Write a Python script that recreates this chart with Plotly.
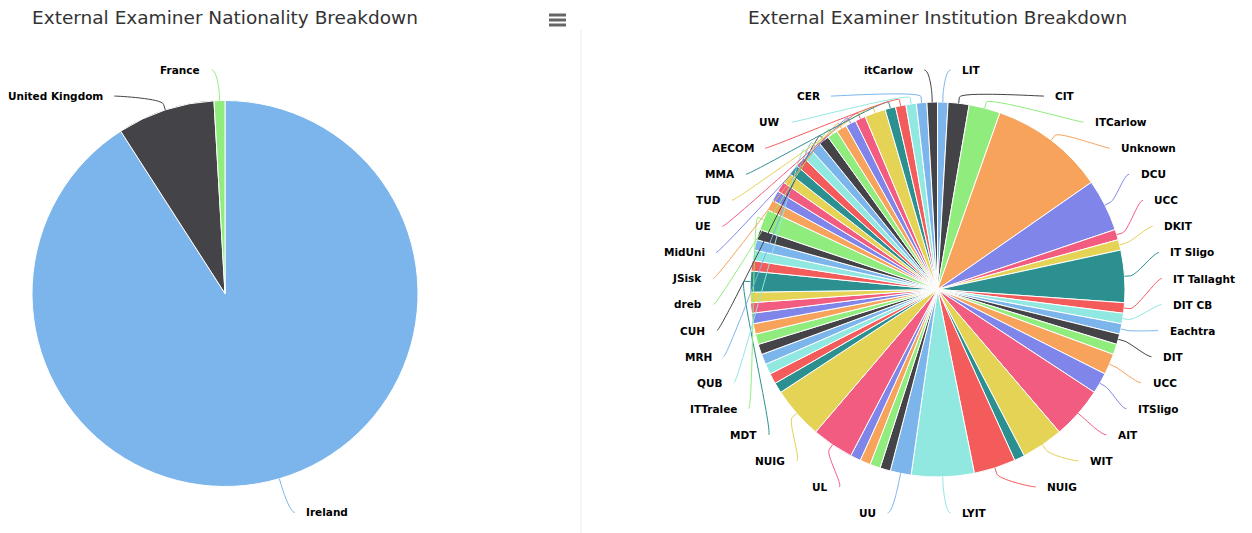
import math
import plotly.graph_objects as go

W, H = 1252, 533          # browser window
OFF = 8                   # default body margin of the written page
FW, FH = W - OFF, H - OFF  # figure size

COLORS = ["#7cb5ec", "#434348", "#90ed7d", "#f7a35c", "#8085e9",
          "#f15c80", "#e4d354", "#2b908f", "#f45b5b", "#91e8e1"]

# ---------------- data ----------------
nat_labels = ["Ireland", "United Kingdom", "France"]
nat_values = [100, 9, 1]

inst_labels = [
    "LIT", "CIT", "ITCarlow", "Unknown", "DCU", "UCC", "DKIT", "IT Sligo",
    "IT Tallaght", "DIT CB", "Eachtra", "DIT", "", "UCC", "ITSligo", "AIT",
    "WIT", "", "NUIG", "LYIT", "UU", "", "", "", "", "UL", "NUIG",
    "", "", "", "", "", "", "", "", "", "",
    "MDT", "", "", "", "", "ITTralee", "", "", "", "", "", "",
    "QUB", "MRH", "CUH", "dreb", "JSisk", "MidUni", "UE", "TUD", "MMA",
    "AECOM", "UW", "CER", "itCarlow",
]
inst_values = [
    1, 2, 3, 11, 5, 1, 1, 5, 1, 1, 1, 1, 1, 2, 2, 5,
    4, 1, 4, 6, 2, 1, 1, 1, 1, 4, 5,
    1, 1, 1, 1, 1, 1, 1, 1, 1, 1,
    2, 1, 1, 1, 1, 2, 1, 1, 1, 1, 1, 1,
    1, 1, 1, 1, 1, 1, 1, 2, 1,
    1, 1, 1, 1,
]

titles = ["External Examiner Nationality Breakdown",
          "External Examiner Institution Breakdown"]

# ---------------- layout constants (page pixel coordinates) ----------------
LEFT_PIE = dict(cx=225.0, cy=293.5, r=193.0)
RIGHT_PIE = dict(cx=937.5, cy=289.5, r=187.5)
LABEL_DIST = 30
SLOT = 26.05
LO, HI = 57.0, 526.0
TEXT_GAP = 17.5
CONN_GAP = 7.0
LABEL_FONT = dict(family="DejaVu Sans", size=10.5, color="#000000", weight="bold")


def domain(g):
    cx, cy, r = g["cx"], g["cy"], g["r"]
    return dict(x=[(cx - r - OFF) / FW, (cx + r - OFF) / FW],
                y=[1 - (cy + r - OFF) / FH, 1 - (cy - r - OFF) / FH])


def distribute(targets, size, lo, hi):
    groups = [[t, 1] for t in targets]

    def pos(g):
        p = g[0] / g[1] - g[1] * size / 2
        return min(max(p, lo), hi - g[1] * size)

    changed = True
    while changed:
        changed = False
        for k in range(len(groups) - 1):
            if pos(groups[k]) + groups[k][1] * size > pos(groups[k + 1]) + 1e-9:
                groups[k] = [groups[k][0] + groups[k + 1][0], groups[k][1] + groups[k + 1][1]]
                del groups[k + 1]
                changed = True
                break
    out = []
    for g in groups:
        p = pos(g)
        for j in range(g[1]):
            out.append(p + size * (j + 0.5))
    return out


def labels_and_connectors(names, values, g, colors):
    cx, cy, r = g["cx"], g["cy"], g["r"]
    R = r + LABEL_DIST
    total = float(sum(values))
    cum = 0.0
    items = []
    for i, (n, v) in enumerate(zip(names, values)):
        a0 = cum / total * 360
        cum += v
        a1 = cum / total * 360
        if not n:
            continue
        midd = (a0 + a1) / 2
        mid = math.radians(midd)
        items.append(dict(name=n, mid=mid, nat=cy - R * math.cos(mid),
                          side=1 if midd < 180 else -1, color=colors[i % len(colors)]))
    for side in (1, -1):
        grp = sorted([it for it in items if it["side"] == side], key=lambda it: it["nat"])
        ys = distribute([it["nat"] + 5 for it in grp], SLOT, LO, HI)
        for it, y in zip(grp, ys):
            it["y"] = y
    annotations, shapes = [], []
    for it in items:
        side, y, mid = it["side"], it["y"], it["mid"]
        extreme = y < LO + SLOT / 2 + 2 or y > HI - SLOT / 2 - 2
        dy = (it["nat"] if extreme else y) - cy
        G = math.sqrt(max(0.0, R * R - dy * dy))
        text_x = cx + side * (G + TEXT_GAP)
        conn_x = cx + side * (G + CONN_GAP)
        bx, by = cx + (r + 6) * math.sin(mid), cy - (r + 6) * math.cos(mid)
        tx, ty = cx + r * math.sin(mid), cy - r * math.cos(mid)
        c1x, c1y = conn_x - side * 5, y
        c2x, c2y = 2 * bx - tx, 2 * by - ty
        path = (f"M {conn_x:.2f},{y:.2f} C {c1x:.2f},{c1y:.2f} {c2x:.2f},{c2y:.2f} "
                f"{bx:.2f},{by:.2f} L {tx:.2f},{ty:.2f}")
        shapes.append(dict(type="path", path=path, xref="x", yref="y", layer="above",
                           line=dict(color=it["color"], width=1)))
        annotations.append(dict(x=text_x, y=y, xref="x", yref="y", text=it["name"],
                                showarrow=False, xanchor="left" if side > 0 else "right",
                                yanchor="middle", font=LABEL_FONT, borderpad=0))
    return annotations, shapes


nat_colors = [COLORS[i % 10] for i in range(len(nat_values))]
inst_colors = [COLORS[i % 10] for i in range(len(inst_values))]

fig = go.Figure()
fig.add_trace(go.Scatter(x=[], y=[], showlegend=False, hoverinfo="skip"))
fig.add_trace(go.Pie(
    labels=[f"n{i}" for i in range(len(nat_values))], values=nat_values,
    hovertext=nat_labels, hoverinfo="text+value",
    sort=False, direction="clockwise", rotation=0, textinfo="none",
    marker=dict(colors=nat_colors, line=dict(color="#ffffff", width=1)),
    domain=domain(LEFT_PIE), showlegend=False))
fig.add_trace(go.Pie(
    labels=[f"i{i}" for i in range(len(inst_values))], values=inst_values,
    hovertext=inst_labels, hoverinfo="text+value",
    sort=False, direction="clockwise", rotation=0, textinfo="none",
    marker=dict(colors=inst_colors, line=dict(color="#ffffff", width=1)),
    domain=domain(RIGHT_PIE), showlegend=False))

ann1, sh1 = labels_and_connectors(nat_labels, nat_values, LEFT_PIE, nat_colors)
ann2, sh2 = labels_and_connectors(inst_labels, inst_values, RIGHT_PIE, inst_colors)

title_font = dict(family="DejaVu Sans", size=18.5, color="#333333")
ann_titles = [
    dict(x=LEFT_PIE["cx"], y=17, xref="x", yref="y", text=titles[0], showarrow=False,
         xanchor="center", yanchor="middle", font=title_font),
    dict(x=RIGHT_PIE["cx"], y=17, xref="x", yref="y", text=titles[1], showarrow=False,
         xanchor="center", yanchor="middle", font=title_font),
]

deco = [dict(type="line", xref="x", yref="y", x0=581, x1=581, y0=30, y1=H,
             line=dict(color="#eceee2", width=1), layer="below")]
for yy in (15, 20, 25):
    deco.append(dict(type="line", xref="x", yref="y", x0=549, x1=566, y0=yy, y1=yy,
                     line=dict(color="#666666", width=3), layer="above"))

fig.update_layout(
    width=FW, height=FH, margin=dict(l=0, r=0, t=0, b=0),
    paper_bgcolor="#ffffff", plot_bgcolor="#ffffff",
    xaxis=dict(range=[OFF, W], visible=False, fixedrange=True, domain=[0, 1]),
    yaxis=dict(range=[H, OFF], visible=False, fixedrange=True, domain=[0, 1]),
    annotations=ann_titles + ann1 + ann2,
    shapes=deco + sh1 + sh2,
    showlegend=False,
)

fig.write_html("out.html", config={"displayModeBar": False})
